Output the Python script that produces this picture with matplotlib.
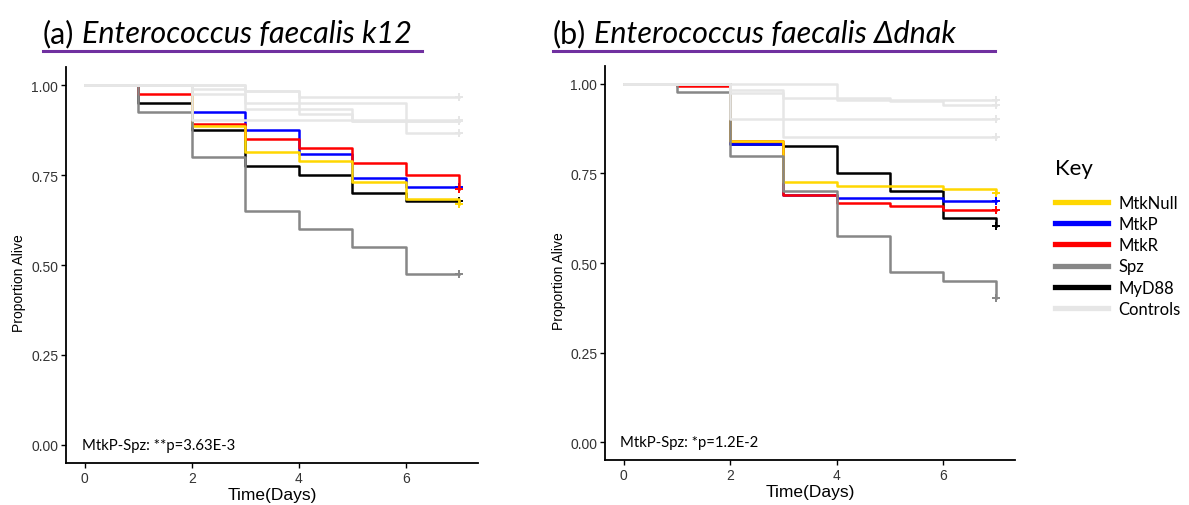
import matplotlib
matplotlib.use("Agg")
import matplotlib.pyplot as plt
from matplotlib.lines import Line2D

# ---- data ----
days = [0, 1, 2, 3, 4, 5, 6, 7]
groups = ["MtkNull", "MtkP", "MtkR", "Spz", "MyD88", "Controls"]
group_colors = ["#FFD700", "#0000FF", "#FF0000", "#878787", "#000000", "#E6E6E6"]

# proportion alive on each day interval [d, d+1); last entry = value at censoring (day 7)
k12_mtknull = [1.0, 1.0, 0.885, 0.815, 0.790, 0.730, 0.683, 0.670]
k12_mtkp    = [1.0, 1.0, 0.925, 0.875, 0.808, 0.742, 0.716, 0.716]
k12_mtkr    = [1.0, 0.975, 0.893, 0.850, 0.825, 0.783, 0.750, 0.711]
k12_spz     = [1.0, 0.925, 0.800, 0.650, 0.600, 0.550, 0.475, 0.475]
k12_myd88   = [1.0, 0.950, 0.876, 0.775, 0.750, 0.700, 0.677, 0.677]
k12_controls = [
    [1.0, 1.0, 1.0, 0.983, 0.967, 0.967, 0.967, 0.967],
    [1.0, 1.0, 0.990, 0.950, 0.950, 0.950, 0.868, 0.868],
    [1.0, 1.0, 0.975, 0.933, 0.933, 0.900, 0.900, 0.900],
    [1.0, 1.0, 1.0, 0.983, 0.920, 0.900, 0.900, 0.900],
    [1.0, 1.0, 0.903, 0.903, 0.903, 0.903, 0.903, 0.903],
]

dnak_mtknull = [1.0, 1.0, 0.840, 0.726, 0.716, 0.716, 0.707, 0.696]
dnak_mtkp    = [1.0, 1.0, 0.833, 0.690, 0.682, 0.682, 0.674, 0.674]
dnak_mtkr    = [1.0, 0.993, 0.840, 0.691, 0.667, 0.658, 0.649, 0.649]
dnak_spz     = [1.0, 0.977, 0.800, 0.700, 0.574, 0.476, 0.451, 0.402]
dnak_myd88   = [1.0, 1.0, 0.833, 0.826, 0.751, 0.700, 0.625, 0.603]
dnak_controls = [
    [1.0, 1.0, 1.0, 1.0, 0.955, 0.955, 0.955, 0.955],
    [1.0, 1.0, 0.982, 0.962, 0.962, 0.952, 0.940, 0.940],
    [1.0, 1.0, 0.903, 0.903, 0.903, 0.903, 0.903, 0.903],
    [1.0, 1.0, 0.975, 0.852, 0.852, 0.852, 0.852, 0.852],
]

k12_pval = "MtkP-Spz: **p=3.63E-3"
dnak_pval = "MtkP-Spz: *p=1.2E-2"

TICK_FONT = "Liberation Sans"
TEXT_FONT = "Lato"
PURPLE = "#7030A0"


def km_panel(ax, curves, controls, pval):
    col = dict(zip(groups, group_colors))
    # draw order: black under, grey over colours, controls on top
    order = ["MyD88", "MtkP", "MtkR", "MtkNull", "Spz"]
    for z, name in enumerate(order):
        vals = curves[name]
        ax.step(days, vals, where="post", color=col[name], lw=1.8, zorder=2 + z)
        ax.plot(days[-1], vals[-1], marker="+", ms=6, mew=1.4, color=col[name], zorder=2 + z)
    for vals in controls:
        ax.step(days, vals, where="post", color=col["Controls"], lw=1.8, zorder=8)
        ax.plot(days[-1], vals[-1], marker="+", ms=6, mew=1.4, color=col["Controls"], zorder=8)

    ax.set_xlim(-0.35, 7.35)
    ax.set_ylim(-0.05, 1.05)
    ax.set_xticks([0, 2, 4, 6])
    ax.set_yticks([0, 0.25, 0.5, 0.75, 1.0])
    ax.set_yticklabels(["0.00", "0.25", "0.50", "0.75", "1.00"])
    for s in ["top", "right"]:
        ax.spines[s].set_visible(False)
    for s in ["left", "bottom"]:
        ax.spines[s].set_linewidth(1.3)
    ax.tick_params(length=3.5, width=1.0, labelsize=10, labelcolor="#333333", pad=2)
    for lab in ax.get_xticklabels() + ax.get_yticklabels():
        lab.set_fontfamily(TICK_FONT)
    ax.set_xlabel("Time(Days)", fontsize=12.5, family=TICK_FONT, labelpad=2)
    ax.set_ylabel("Proportion Alive", fontsize=10, family=TICK_FONT)
    ax.yaxis.set_label_coords(-0.096, 0.457)
    ax.text(-0.06, 0.0, pval, fontsize=10.7, family=TEXT_FONT, ha="left", va="center")


fig = plt.figure(figsize=(11.89, 5.06), dpi=100)
W, H = 1189, 506

ax1 = fig.add_axes([66 / W, (H - 464) / H, 412 / W, 396 / H])
ax2 = fig.add_axes([605 / W, (H - 461) / H, 410 / W, 394 / H])

km_panel(ax1, {"MtkNull": k12_mtknull, "MtkP": k12_mtkp, "MtkR": k12_mtkr,
               "Spz": k12_spz, "MyD88": k12_myd88}, k12_controls, k12_pval)
km_panel(ax2, {"MtkNull": dnak_mtknull, "MtkP": dnak_mtkp, "MtkR": dnak_mtkr,
               "Spz": dnak_spz, "MyD88": dnak_myd88}, dnak_controls, dnak_pval)

# panel titles: upright letter + italic species name, purple rule underneath
fig.canvas.draw()
renderer = fig.canvas.get_renderer()
for x0, x1, letter, species in [(43, 422, "(a)", "Enterococcus faecalis k12"),
                                (553, 995, "(b)", "Enterococcus faecalis Δdnak")]:
    base = (H - 43) / H
    t = fig.text(x0 / W, base, letter, fontsize=22, family=TEXT_FONT, va="baseline")
    bb = t.get_window_extent(renderer)
    fig.text((bb.x1 + 8) / W, base, species, fontsize=22, family=TEXT_FONT,
             style="italic", va="baseline")
    fig.add_artist(Line2D([x0 / W, x1 / W], [(H - 52) / H] * 2, color=PURPLE, lw=2.2))

# key
fig.text(1055 / W, (H - 175) / H, "Key", fontsize=16, family=TEXT_FONT, va="baseline")
handles = [Line2D([], [], color=c, lw=3.8) for c in group_colors]
leg = fig.legend(handles, groups, loc="upper left", bbox_to_anchor=(1055 / W, (H - 196) / H),
                 frameon=False, prop={"family": TEXT_FONT, "size": 12},
                 handlelength=3.2, handletextpad=0.6, labelspacing=0.31,
                 borderaxespad=0, borderpad=0)

fig.savefig("out.png", dpi=100)
